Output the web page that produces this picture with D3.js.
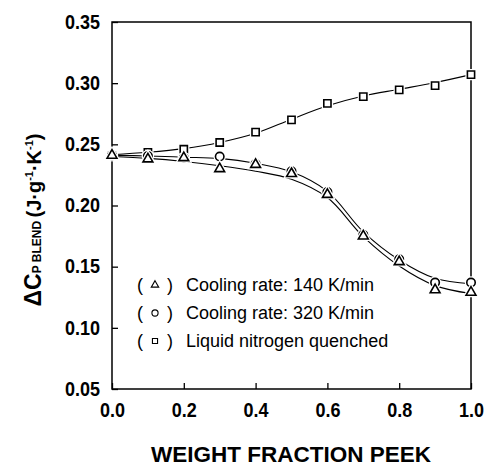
<!DOCTYPE html>
<html>
<head>
<meta charset="utf-8">
<script src="https://cdn.jsdelivr.net/npm/d3@7"></script>
<style>
  html, body { margin: 0; padding: 0; background: #fff; }
  svg { display: block; font-family: "Liberation Sans", Arial, Helvetica, sans-serif; }
</style>
</head>
<body>
<svg id="chart" width="487" height="468"></svg>
<script>
// Weight fraction of PEEK in the blend
const fractions = [0.0, 0.1, 0.2, 0.3, 0.4, 0.5, 0.6, 0.7, 0.8, 0.9, 1.0];

// Measured ΔCp of the blend (J·g-1·K-1)
const rate140 = [0.241, 0.238, 0.239, 0.230, 0.2335, 0.226, 0.209, 0.175, 0.154, 0.131, 0.129];
const rate320 = [0.241, 0.2405, 0.239, 0.240, 0.234, 0.228, 0.211, 0.176, 0.156, 0.137, 0.137];
const quenched = [0.241, 0.2435, 0.246, 0.2515, 0.260, 0.270, 0.2835, 0.289, 0.2945, 0.298, 0.307];

// Smoothed trend lines drawn through each series
const fit140 = [0.240, 0.2385, 0.236, 0.2325, 0.228, 0.2215, 0.2065, 0.1745, 0.1505, 0.1345, 0.128];
const fit320 = [0.241, 0.2405, 0.2395, 0.2385, 0.2345, 0.2275, 0.2115, 0.1785, 0.1555, 0.1405, 0.136];
const fitQuenched = [0.2415, 0.2435, 0.2465, 0.2515, 0.259, 0.2705, 0.2815, 0.2895, 0.295, 0.3005, 0.307];

// Axis ticks
const xTicks = [0.0, 0.2, 0.4, 0.6, 0.8, 1.0];
const yTicks = [0.05, 0.10, 0.15, 0.20, 0.25, 0.30, 0.35];

const legendLabels = [
  "Cooling rate: 140 K/min",
  "Cooling rate: 320 K/min",
  "Liquid nitrogen quenched"
];

const svg = d3.select("#chart");
const x = d3.scaleLinear().domain([0, 1]).range([112, 471]);
const y = d3.scaleLinear().domain([0.05, 0.35]).range([389, 22]);

// Frame
svg.append("rect")
  .attr("x", x(0)).attr("y", y(0.35))
  .attr("width", x(1) - x(0)).attr("height", y(0.05) - y(0.35))
  .attr("fill", "none").attr("stroke", "#000").attr("stroke-width", 1.5);

// Left axis: inward ticks + labels
const yAxis = d3.axisLeft(y).tickValues(yTicks).tickSize(-6).tickPadding(12)
  .tickFormat(d3.format(".2f"));
const gy = svg.append("g").attr("transform", `translate(${x(0)},0)`).call(yAxis);
gy.select(".domain").remove();
gy.selectAll(".tick line").attr("stroke", "#000").attr("stroke-width", 1.3);
gy.selectAll(".tick text")
  .attr("x", -12)
  .attr("transform", "scale(1,1.08)")
  .attr("font-size", 18).attr("font-weight", "bold").attr("fill", "#000")
  .attr("font-family", "'Liberation Sans', Arial, sans-serif");

// Bottom axis: inward ticks + labels
const xAxis = d3.axisBottom(x).tickValues(xTicks).tickSize(-6).tickPadding(13)
  .tickFormat(d3.format(".1f"));
const gx = svg.append("g").attr("transform", `translate(0,${y(0.05)})`).call(xAxis);
gx.select(".domain").remove();
gx.selectAll(".tick line").attr("stroke", "#000").attr("stroke-width", 1.3);
gx.selectAll(".tick text")
  .attr("transform", "scale(1,1.08)")
  .attr("font-size", 18).attr("font-weight", "bold").attr("fill", "#000")
  .attr("font-family", "'Liberation Sans', Arial, sans-serif");

// Trend lines
const line = d3.line()
  .x((d, i) => x(fractions[i]))
  .y(d => y(d))
  .curve(d3.curveCatmullRom.alpha(0.5));

[fitQuenched, fit320, fit140].forEach(fit => {
  svg.append("path")
    .attr("d", line(fit))
    .attr("fill", "none").attr("stroke", "#000").attr("stroke-width", 1.1);
});

// Marker shapes
const sym = {
  circle: d3.symbol().type(d3.symbolCircle).size(56),
  square: d3.symbol().type(d3.symbolSquare).size(52),
  triangle: d3.symbol().type(d3.symbolTriangle).size(42)
};

function drawMarkers(values, shape) {
  const g = svg.append("g");
  // white halo so the line breaks around each marker
  g.selectAll("path.halo").data(values).join("path")
    .attr("class", "halo")
    .attr("d", sym[shape])
    .attr("transform", (d, i) => `translate(${x(fractions[i])},${y(d)})`)
    .attr("fill", "#fff").attr("stroke", "#fff").attr("stroke-width", 4);
  g.selectAll("path.mark").data(values).join("path")
    .attr("class", "mark")
    .attr("d", sym[shape])
    .attr("transform", (d, i) => `translate(${x(fractions[i])},${y(d)})`)
    .attr("fill", "#fff").attr("stroke", "#000").attr("stroke-width", 1.6);
}
drawMarkers(quenched, "square");
drawMarkers(rate320, "circle");
drawMarkers(rate140, "triangle");

// Legend
const legendShapes = ["triangle", "circle", "square"];
const legendSym = {
  circle: d3.symbol().type(d3.symbolCircle).size(30),
  square: d3.symbol().type(d3.symbolSquare).size(26),
  triangle: d3.symbol().type(d3.symbolTriangle).size(24)
};
const legend = svg.append("g");
legendLabels.forEach((label, i) => {
  const by = 291 + i * 28;
  const row = legend.append("g");
  row.append("text").attr("x", 140).attr("y", by).attr("text-anchor", "middle")
    .attr("font-size", 18).text("(");
  row.append("path").attr("d", legendSym[legendShapes[i]])
    .attr("transform", `translate(155,${by - 6})`)
    .attr("fill", "none").attr("stroke", "#000").attr("stroke-width", 1.1);
  row.append("text").attr("x", 170).attr("y", by).attr("text-anchor", "middle")
    .attr("font-size", 18).text(")");
  row.append("text").attr("x", 186).attr("y", by)
    .attr("font-size", 18).text(label);
});

// X axis title
svg.append("text")
  .attr("x", 291).attr("y", 462).attr("text-anchor", "middle")
  .attr("font-size", 22.5).attr("font-weight", "bold")
  .text("WEIGHT FRACTION PEEK");

// Y axis title: ΔC_P BLEND (J·g-1·K-1)
const yt = svg.append("text")
  .attr("transform", "translate(41,220) rotate(-90)")
  .attr("text-anchor", "middle")
  .attr("font-weight", "bold");
yt.append("tspan").attr("font-size", 23).text("ΔC");
yt.append("tspan").attr("font-size", 12).attr("dy", 0).text("P ");
yt.append("tspan").attr("font-size", 12).text("BLEND ");
yt.append("tspan").attr("font-size", 20).text("(J·g");
yt.append("tspan").attr("font-size", 11).attr("dy", -8).text("-1");
yt.append("tspan").attr("font-size", 20).attr("dy", 8).text("·K");
yt.append("tspan").attr("font-size", 11).attr("dy", -8).text("-1");
yt.append("tspan").attr("font-size", 20).attr("dy", 8).text(")");
</script>
</body>
</html>
